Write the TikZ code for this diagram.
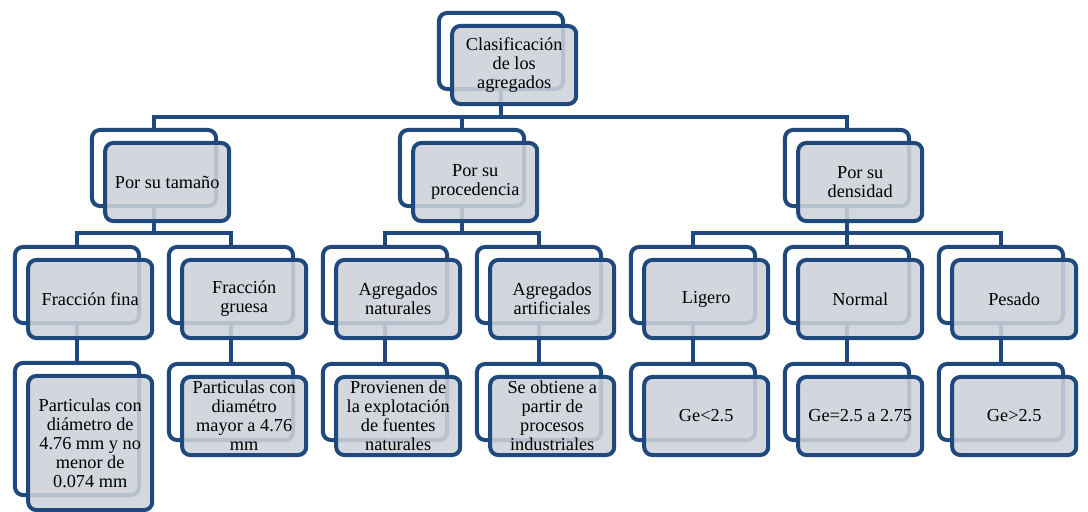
\documentclass[tikz,border=0pt]{standalone}
\usepackage{fontspec}
\setmainfont{Liberation Serif}
\newfontfamily\agfont{Liberation Serif}
\usepackage{tikz}
\usetikzlibrary{positioning}
\usepackage{xcolor}
\definecolor{agblue}{RGB}{31,73,125}
\definecolor{aggray}{RGB}{205,209,217}

\begin{document}
\begin{tikzpicture}[
    x=0.025cm, y=-0.025cm,
    backbox/.style={draw=agblue, line width=0.1cm, rounded corners=0.2cm, fill=white,
                    minimum width=3.1cm, minimum height=1.9cm, inner sep=0pt},
    frontbox/.style={backbox, fill=aggray, fill opacity=0.88, text opacity=1,
                     minimum height=1.95cm, align=center, xshift=0.33cm, yshift=-0.35cm,
                     font=\agfont\fontsize{13}{13.5}\selectfont},
    conn/.style={draw=agblue, line width=0.1cm}
]
% 1 unit = 1 px of the 1088x512 layout
\useasboundingbox (0,0) rectangle (1088,512);

% Back frames
\node[backbox] (clasB) at (501,51) {};
\node[backbox] (tamB)  at (154,168) {};
\node[backbox] (procB) at (462,168) {};
\node[backbox] (densB) at (847,168) {};
\foreach \n/\x in {fina/77, gruesa/231, nat/385, art/539, lig/693, nor/847, pes/1001}
  \node[backbox] (\n B) at (\x,285) {};
\node[backbox, minimum height=3.3cm] (hfinaB) at (77,429) {};
\foreach \n/\x in {hgruesa/231, hnat/385, hart/539, hlig/693, hnor/847, hpes/1001}
  \node[backbox] (\n B) at (\x,402) {};

% Connectors (bus lines)
\coordinate (bus1) at (501,117);
\draw[conn] (clasB.south) -- (bus1);
\foreach \c in {tamB, procB, densB} \draw[conn] (\c.north) |- (bus1);

\coordinate (bus2) at (154,233);
\draw[conn] (tamB.south) -- (bus2);
\foreach \c in {finaB, gruesaB} \draw[conn] (\c.north) |- (bus2);

\coordinate (bus3) at (462,233);
\draw[conn] (procB.south) -- (bus3);
\foreach \c in {natB, artB} \draw[conn] (\c.north) |- (bus3);

\coordinate (bus4) at (847,233);
\draw[conn] (densB.south) -- (bus4);
\foreach \c in {ligB, norB, pesB} \draw[conn] (\c.north) |- (bus4);

\foreach \c in {fina, gruesa, nat, art, lig, nor, pes}
  \draw[conn] (\c B.south) -- (h\c B.north);

% Front boxes
\node[frontbox] (clas) at (clasB) {Clasificación\\de los\\agregados};
\node[frontbox] (tam)  at (tamB)  {Por su tamaño};
\node[frontbox] (proc) at (procB) {Por su\\procedencia};
\node[frontbox] (dens) at (densB) {Por su\\densidad};

\node[frontbox] (fina)   at (finaB)   {Fracción fina};
\node[frontbox] (gruesa) at (gruesaB) {Fracción\\gruesa};
\node[frontbox] (nat)    at (natB)    {Agregados\\naturales};
\node[frontbox] (art)    at (artB)    {Agregados\\artificiales};
\node[frontbox] (lig)    at (ligB)    {Ligero};
\node[frontbox] (nor)    at (norB)    {Normal};
\node[frontbox] (pes)    at (pesB)    {Pesado};

\node[frontbox, minimum height=3.35cm] (hfina) at (hfinaB)
  {Particulas con\\diámetro de\\4.76 mm y no\\menor de\\0.074 mm};
\node[frontbox] (hgruesa) at (hgruesaB) {Particulas con\\diamétro\\mayor a 4.76\\mm};
\node[frontbox] (hnat)    at (hnatB)    {Provienen de\\la explotación\\de fuentes\\naturales};
\node[frontbox] (hart)    at (hartB)    {Se obtiene a\\partir de\\procesos\\industriales};
\node[frontbox] (hlig)    at (hligB)    {Ge<2.5};
\node[frontbox] (hnor)    at (hnorB)    {Ge=2.5 a 2.75};
\node[frontbox] (hpes)    at (hpesB)    {Ge>2.5};
\end{tikzpicture}
\end{document}
